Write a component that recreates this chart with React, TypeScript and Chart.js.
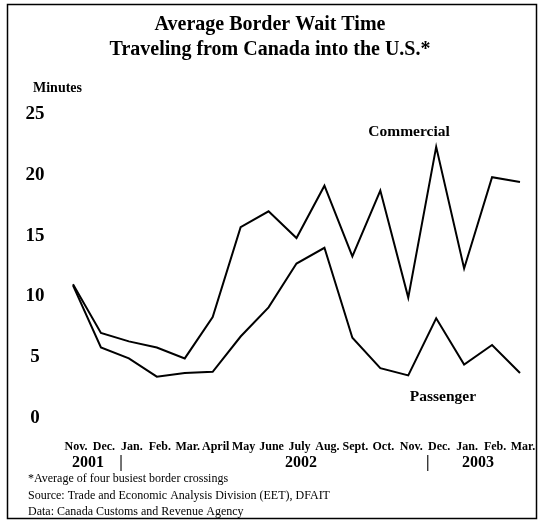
import React, { useEffect, useRef } from 'react';
import { Chart, registerables } from 'chart.js';

Chart.register(...registerables);

const months = ['Nov.', 'Dec.', 'Jan.', 'Feb.', 'Mar.', 'April', 'May', 'June', 'July', 'Aug.', 'Sept.', 'Oct.', 'Nov.', 'Dec.', 'Jan.', 'Feb.', 'Mar.'];
const commercial = [11.0, 7.0, 6.3, 5.8, 4.9, 8.3, 15.7, 17.0, 14.8, 19.1, 13.3, 18.7, 9.9, 22.3, 12.3, 19.8, 19.4];
const passenger = [10.9, 5.8, 4.9, 3.4, 3.7, 3.8, 6.7, 9.1, 12.7, 14.0, 6.6, 4.1, 3.5, 8.2, 4.4, 6.0, 3.7];
const titleLines = ['Average Border Wait Time', 'Traveling from Canada into the U.S.*'];
const yAxisLabel = 'Minutes';
const yearTexts = ['2001', '|', '2002', '|', '2003'];
const yearAt = [0.54, 1.72, 8.16, 12.7, 14.5];
const seriesNames = ['Commercial', 'Passenger'];
const seriesNameAt = [[12.03, 23.5], [13.24, 1.7]];
const notes = [
  '*Average of four busiest border crossings',
  'Source: Trade and Economic Analysis Division (EET), DFAIT',
  'Data: Canada Customs and Revenue Agency',
];

const SERIF = "'Liberation Serif', 'Times New Roman', serif";

const overlay = {
  id: 'overlay',
  afterDraw(chart: any) {
    const ctx = chart.ctx;
    const xs = chart.scales.x;
    const ys = chart.scales.y;
    ctx.save();
    // frame
    ctx.strokeStyle = '#000';
    ctx.lineWidth = 1.5;
    ctx.strokeRect(7.5, 4.5, 529, 514);
    ctx.fillStyle = '#000';
    // y-axis label
    ctx.font = `bold 14px ${SERIF}`;
    ctx.textAlign = 'left';
    ctx.textBaseline = 'middle';
    ctx.fillText(yAxisLabel, 33, ys.getPixelForValue(27.1));
    // year row
    ctx.font = `bold 16px ${SERIF}`;
    ctx.textAlign = 'center';
    yearTexts.forEach((t, i) => {
      ctx.fillText(t, xs.getPixelForValue(yearAt[i]), 463);
    });
    // series names
    ctx.font = `bold 15.5px ${SERIF}`;
    seriesNames.forEach((t, i) => {
      ctx.fillText(t, xs.getPixelForValue(seriesNameAt[i][0]), ys.getPixelForValue(seriesNameAt[i][1]));
    });
    // footnotes
    ctx.font = `12px ${SERIF}`;
    ctx.textAlign = 'left';
    notes.forEach((t, i) => {
      ctx.fillText(t, 28, 479 + i * 16.5);
    });
    ctx.restore();
  },
};

export default function App() {
  const ref = useRef<HTMLCanvasElement>(null);
  useEffect(() => {
    if (!ref.current) return;
    const chart = new Chart(ref.current, {
      type: 'line',
      data: {
        labels: months,
        datasets: [
          { label: seriesNames[0], data: commercial, borderColor: '#000', borderWidth: 2, pointRadius: 0, tension: 0, fill: false },
          { label: seriesNames[1], data: passenger, borderColor: '#000', borderWidth: 2, pointRadius: 0, tension: 0, fill: false },
        ],
      },
      options: {
        responsive: false,
        animation: false,
        layout: { padding: { left: 20, right: 22, top: 0, bottom: 71 } },
        plugins: {
          legend: { display: false },
          tooltip: { enabled: false },
          title: {
            display: true,
            text: titleLines,
            color: '#000',
            font: { family: SERIF, size: 20, weight: 'bold', lineHeight: 1.25 },
            padding: { top: 12, bottom: 52 },
          },
        },
        scales: {
          x: {
            offset: false,
            grid: { display: false, drawTicks: false },
            border: { display: false },
            afterFit: (scale: any) => {
              scale.height = 36;
              scale.paddingLeft = 0;
              scale.paddingRight = 0;
            },
            ticks: {
              autoSkip: false,
              maxRotation: 0,
              minRotation: 0,
              padding: 22,
              labelOffset: 3,
              color: '#000',
              font: { family: SERIF, size: 12, weight: 'bold' },
            },
          },
          y: {
            min: 0,
            max: 25,
            grid: { display: false, drawTicks: false },
            border: { display: false },
            afterFit: (scale: any) => { scale.width = 53; },
            ticks: {
              stepSize: 5,
              padding: 28.5,
              crossAlign: 'center',
              color: '#000',
              font: { family: SERIF, size: 19, weight: 'bold' },
            },
          },
        },
      },
      plugins: [overlay],
    });
    return () => chart.destroy();
  }, []);
  return (
    <div style={{ position: 'absolute', left: 0, top: 0, width: 542, height: 525, background: '#fff' }}>
      <canvas ref={ref} width={542} height={525} />
    </div>
  );
}
